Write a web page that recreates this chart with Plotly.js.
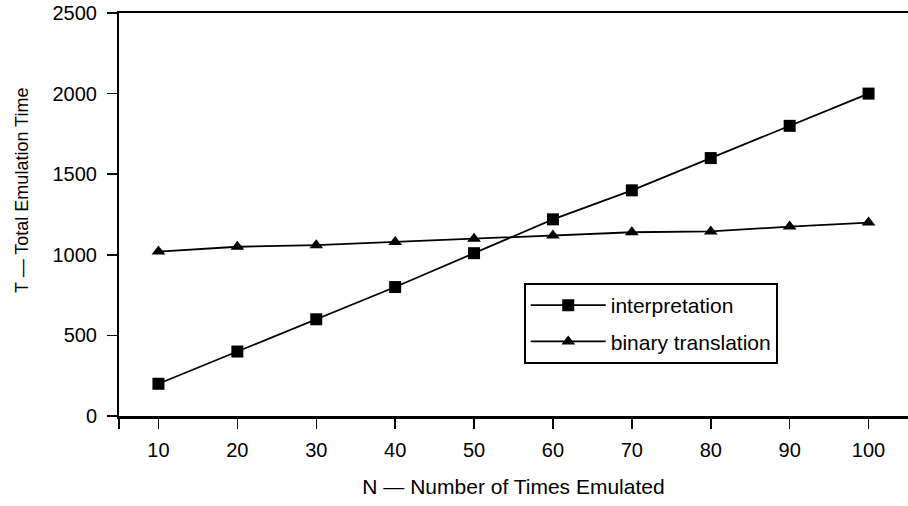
<!DOCTYPE html>
<html>
<head>
<meta charset="utf-8">
<script src="https://cdn.plot.ly/plotly-3.0.1.min.js"></script>
<style>html,body{margin:0;padding:0;background:#fff;}#chart{width:908px;height:506px;}</style>
</head>
<body>
<div id="chart"></div>
<script>
var nValues = [10, 20, 30, 40, 50, 60, 70, 80, 90, 100];
var interpretation = [200, 400, 600, 800, 1010, 1220, 1400, 1600, 1800, 2000];
var binaryTranslation = [1020, 1050, 1060, 1080, 1100, 1120, 1140, 1145, 1175, 1200];
var xTickVals = [5, 10, 20, 30, 40, 50, 60, 70, 80, 90, 100];
var xTickText = ['', '10', '20', '30', '40', '50', '60', '70', '80', '90', '100'];
var yTickVals = [0, 500, 1000, 1500, 2000, 2500];
var seriesNames = ['interpretation', 'binary translation'];
var xTitle = 'N — Number of Times Emulated';
var yTitle = 'T — Total Emulation Time';

var fam = 'Liberation Sans, Arial, sans-serif';
var font = {family: fam, size: 20, color: '#000'};

var traces = [
  {x: nValues, y: interpretation, name: seriesNames[0], legendgroup: 'a', mode: 'lines+markers', type: 'scatter',
   line: {color: '#000', width: 1.8}, marker: {symbol: 'square', size: 12, color: '#000'}},
  {x: nValues, y: binaryTranslation, name: seriesNames[1], legendgroup: 'b', mode: 'lines+markers', type: 'scatter',
   line: {color: '#000', width: 1.8}, marker: {symbol: 'triangle-up', size: 12, color: '#000'}}
];

var layout = {
  width: 908, height: 506,
  margin: {l: 119, r: 0, t: 13, b: 90},
  paper_bgcolor: '#fff', plot_bgcolor: '#fff',
  font: font,
  showlegend: true,
  legend: {x: 0.513, y: 0.33, xanchor: 'left', yanchor: 'top', bordercolor: '#000', borderwidth: 2,
           bgcolor: '#fff', font: {family: fam, size: 21, color: '#000'}, itemwidth: 75,
           traceorder: 'grouped', tracegroupgap: 6},
  xaxis: {range: [5, 105], tickmode: 'array', tickvals: xTickVals, ticktext: xTickText,
          ticks: 'outside', ticklen: 10, tickwidth: 1.5, tickcolor: '#000', ticklabelstandoff: 4,
          showline: true, linecolor: '#000', linewidth: 2.5, mirror: true,
          showgrid: false, zeroline: false, tickfont: font,
          title: {text: xTitle, font: {family: fam, size: 21, color: '#000'}, standoff: 20}},
  yaxis: {range: [0, 2500], tickmode: 'array', tickvals: yTickVals,
          ticks: 'outside', ticklen: 10, tickwidth: 1.5, tickcolor: '#000', ticklabelstandoff: 6,
          showline: true, linecolor: '#000', linewidth: 2,
          showgrid: false, zeroline: false, tickfont: font},
  annotations: [{text: yTitle, textangle: -90, xref: 'paper', yref: 'paper',
                 x: (22 - 119) / 789, y: (416 - 191) / 403, xanchor: 'center', yanchor: 'middle',
                 showarrow: false, font: {family: fam, size: 18, color: '#000'}}]
};

Plotly.newPlot('chart', traces, layout, {staticPlot: true, displayModeBar: false});
</script>
</body>
</html>
